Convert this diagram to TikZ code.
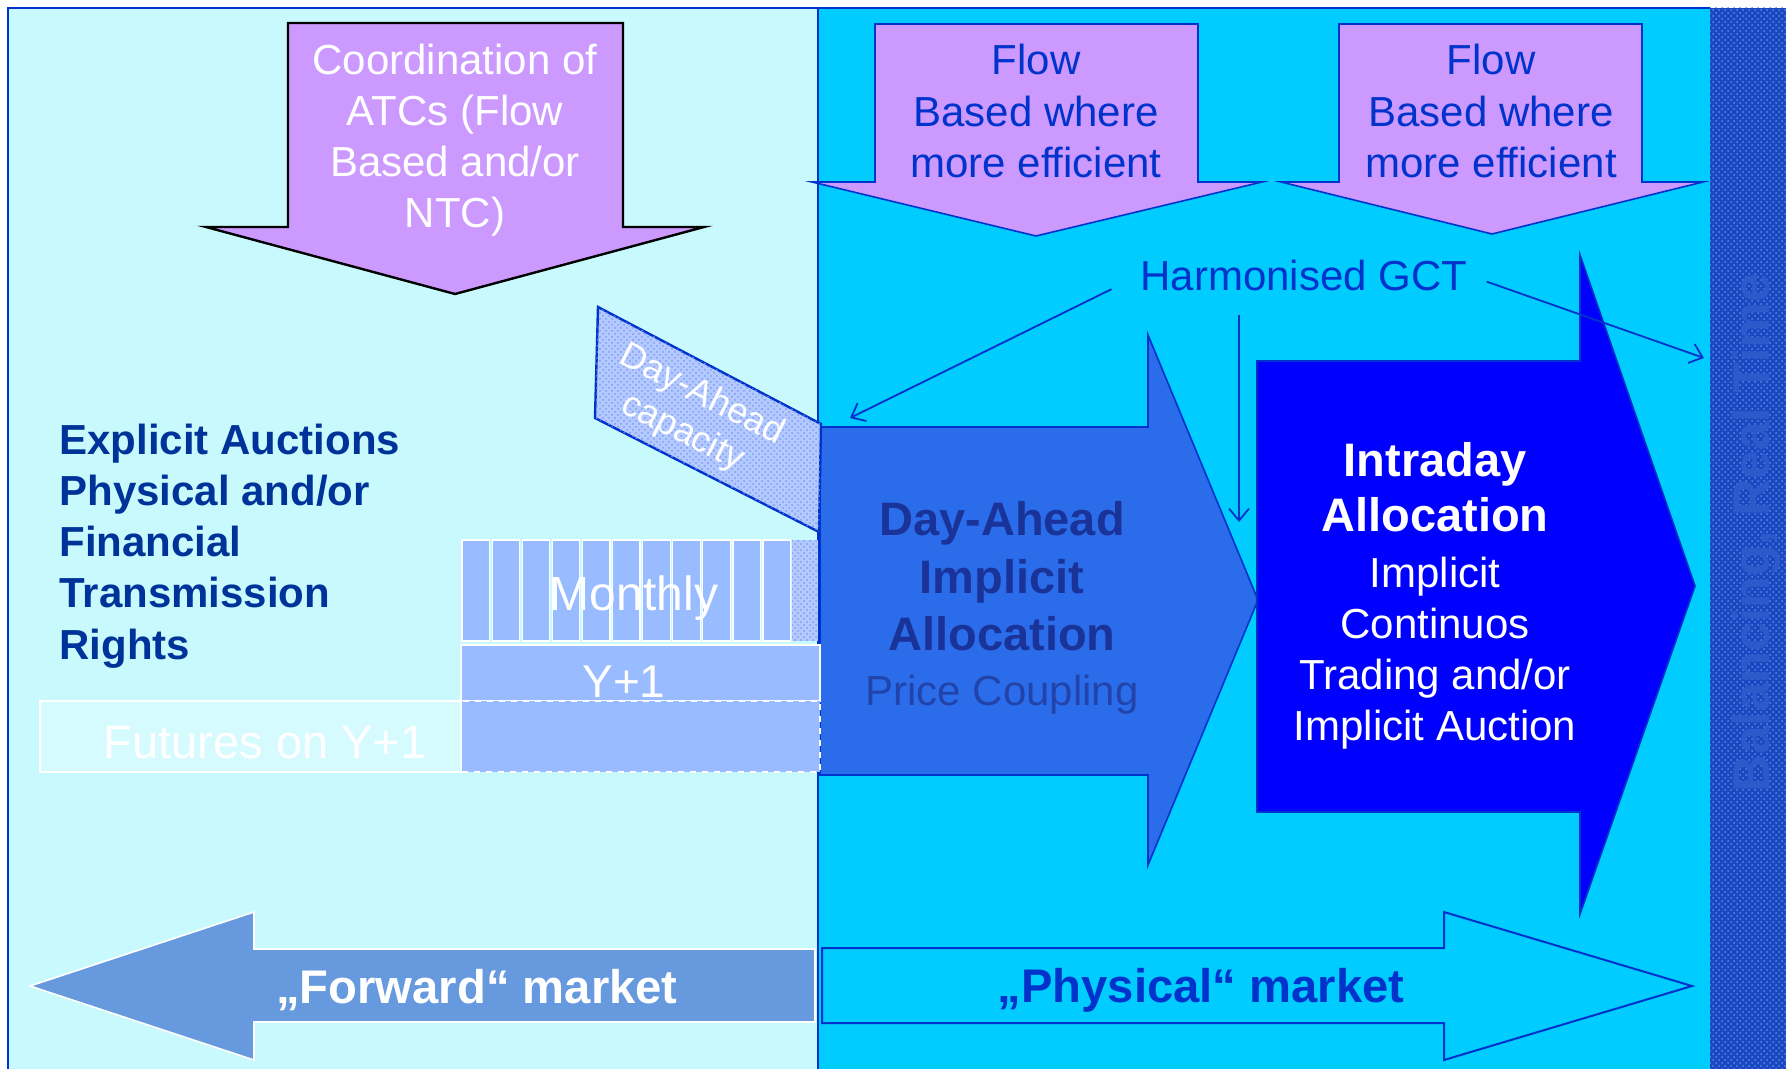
\documentclass[tikz,border=0pt]{standalone}
\usepackage{fontspec}
\setmainfont{Liberation Sans}
\usetikzlibrary{arrows.meta,patterns}

\definecolor{leftbg}{HTML}{C8F9FC}
\definecolor{rightbg}{HTML}{00CCFF}
\definecolor{bandblue}{HTML}{1848C2}
\definecolor{banddot}{HTML}{5F86DC}
\definecolor{framecol}{HTML}{0033CC}
\definecolor{lilac}{HTML}{CC99FF}
\definecolor{dablue}{HTML}{2B6CEA}
\definecolor{idblue}{HTML}{0000FF}
\definecolor{barblue}{HTML}{99BBFF}
\definecolor{capblue}{HTML}{B4C9FF}
\definecolor{capdot}{HTML}{7C9CF0}
\definecolor{futbg}{HTML}{D6FBFF}
\definecolor{fwdblue}{HTML}{6699DD}
\definecolor{navy}{HTML}{003399}
\definecolor{datext}{HTML}{1A3399}
\definecolor{pctext}{HTML}{2244AA}
\definecolor{baltext}{HTML}{2D5ACB}

\newcommand{\fsz}[2]{\fontsize{#1}{#2}\selectfont}

\tikzset{
  frameline/.style={draw=framecol, line width=1pt},
  lilacarrow/.style={fill=lilac, draw=framecol, line width=0.8pt},
  bar/.style={fill=barblue, draw=white, line width=0.6pt},
  txt/.style={align=center, inner sep=0pt},
  gctline/.style={draw=framecol, line width=0.9pt, -{Straight Barb[length=6pt,width=10pt]}}
}

\begin{document}
\begin{tikzpicture}[x=0.5pt,y=-0.5pt]
\useasboundingbox (0,0) rectangle (1786,1069);
\fill[white] (0,0) rectangle (1786,1069);

% backgrounds
\fill[leftbg] (8,8) rectangle (818,1069);
\fill[rightbg] (818,8) rectangle (1710,1069);
\fill[bandblue] (1710,8) rectangle (1786,1069);
\fill[pattern=crosshatch dots, pattern color=banddot] (1710,8) rectangle (1786,1069);
\draw[frameline] (8,1069) -- (8,8) -- (1710,8);
\draw[frameline] (818,8) -- (818,1069);

% market arrows
\draw[fill=fwdblue, draw=white, line width=0.8pt] (815,949) -- (254,949) -- (254,912) -- (30,986)
  -- (254,1060) -- (254,1022) -- (815,1022) -- cycle;
\draw[framecol, line width=1pt] (822,948) -- (1444,948) -- (1444,912) -- (1692,986)
  -- (1444,1060) -- (1444,1023) -- (822,1023) -- cycle;

% capacity arrows from the top
\draw[fill=lilac, draw=black, line width=1.2pt] (288,23) -- (623,23) -- (623,227) -- (704,227)
  -- (455,294) -- (206,227) -- (288,227) -- cycle;
\draw[lilacarrow] (875,24) -- (1198,24) -- (1198,182) -- (1262,182) -- (1036,236)
  -- (812,182) -- (875,182) -- cycle;
\draw[lilacarrow] (1339,24) -- (1642,24) -- (1642,182) -- (1703,182) -- (1492,234)
  -- (1281,182) -- (1339,182) -- cycle;

% day-ahead and intraday arrows
\draw[fill=dablue, draw=framecol, line width=0.8pt] (820,427) -- (1148,427) -- (1148,335) -- (1258,600)
  -- (1148,865) -- (1148,775) -- (820,775) -- cycle;
\draw[fill=idblue, draw=framecol, line width=0.8pt] (1257,361) -- (1580,361) -- (1580,255) -- (1695,586)
  -- (1580,914) -- (1580,812) -- (1257,812) -- cycle;

% day-ahead capacity
\draw[fill=capblue, draw=framecol, line width=1.2pt] (598,307) -- (821,424) -- (819,532) -- (595,418) -- cycle;
\fill[pattern=crosshatch dots, pattern color=capdot] (598,307) -- (821,424) -- (819,532) -- (595,418) -- cycle;

% monthly, yearly and futures blocks
\foreach \i in {0,...,10}
  \draw[bar] ({462+30.1*\i},540) rectangle ({462+30.1*\i+27.5},641);
\fill[capblue] (792,540) rectangle (818,641);
\fill[pattern=crosshatch dots, pattern color=capdot] (792,540) rectangle (818,641);
\draw[bar] (461,645) rectangle (820,701);
\draw[bar, dashed] (461,701) rectangle (820,772);
\draw[fill=futbg, draw=white, line width=0.6pt] (40,701) rectangle (461,772);

% texts
\node[txt, text=white, font=\fsz{21}{25.6}] (coord) at (455,140)
  {Coordination of\\ATCs (Flow\\Based and/or\\NTC)};
\node[txt, text=framecol, font=\fsz{21}{25.6}] (flowA) at (1036,111)
  {Flow\\Based where\\more efficient};
\node[txt, text=framecol, font=\fsz{21}{25.6}] (flowB) at (1491,111)
  {Flow\\Based where\\more efficient};
\node[txt, text=framecol, font=\fsz{21}{25}] (gct) at (1304,275) {Harmonised GCT};
\node[txt, align=left, anchor=west, text=navy, font=\fsz{21}{25.6}\bfseries] (explicit) at (59,546)
  {Explicit Auctions\\Physical and/or\\Financial\\Transmission\\Rights};
\node[txt, text=datext, font=\fsz{23.5}{28.8}\bfseries] (dayahead) at (1002,608)
  {Day-Ahead\\Implicit\\Allocation\\[-1.3pt]{\mdseries\color{pctext}\fsz{21}{25}Price Coupling}};
\node[txt, text=white, font=\fsz{21}{25.5}] (intraday) at (1435,596)
  {{\bfseries\fsz{23.5}{27.5}Intraday}\\[2pt]{\bfseries\fsz{23.5}{27.5}Allocation}\\[2.5pt]Implicit\\Continuos\\Trading and/or\\Implicit Auction};
\node[txt, text=white, font=\fsz{24}{28}] (monthly) at (634,598) {Monthly};
\node[txt, text=white, font=\fsz{23}{27}] (yplus) at (624,682) {Y+1};
\node[txt, text=white, font=\fsz{23.5}{27}] (futures) at (265,743) {Futures on Y+1};
\node[txt, text=white, font=\fsz{18}{21}, rotate=-27] (capacity) at (692,414) {Day-Ahead\\capacity};
\node[txt, text=white, font=\fsz{23.6}{27}\bfseries] (forward) at (477,990) {„Forward“ market};
\node[txt, text=framecol, font=\fsz{23.6}{27}\bfseries] (physical) at (1201,990) {„Physical“ market};
\node[txt, text=baltext, font=\fsz{25.8}{29}\bfseries, rotate=90] (balancing) at (1756,533) {Balancing, Real Time};

% gate closure connectors
\coordinate (gctL) at (850,418);
\coordinate (gctM) at (1239,522);
\coordinate (gctR) at (1704,358);
\draw[gctline, shorten <=16pt] (gct.west) -- (gctL);
\draw[gctline] ([yshift=-12pt]gct.south -| gctM) -- (gctM);
\draw[gctline, shorten <=10pt] (gct.east) -- (gctR);
\end{tikzpicture}
\end{document}
